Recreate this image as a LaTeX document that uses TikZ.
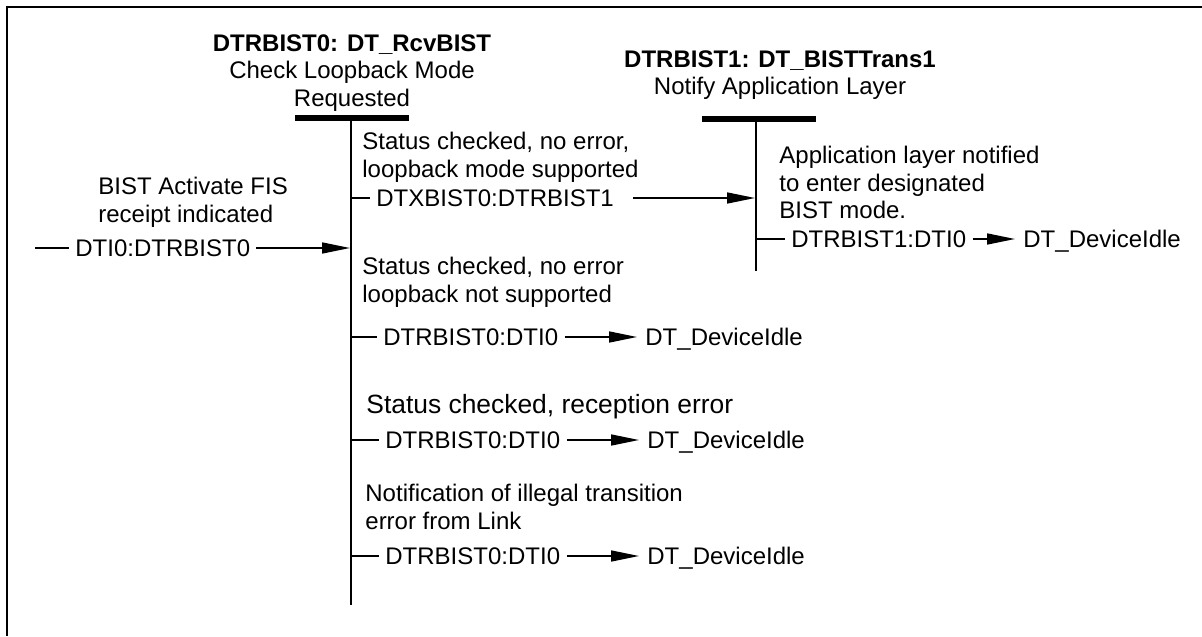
\documentclass[tikz,border=0pt]{standalone}
\usepackage{fontspec}
\setmainfont{Liberation Sans}
\usetikzlibrary{arrows.meta, positioning}
\tikzset{
  frameline/.style={line width=1pt},
  statebar/.style={line width=2.8pt},
  lifeline/.style={line width=1pt},
  tick/.style={line width=0.8pt},
  arr/.style={line width=0.8pt, -{Triangle[length=14pt,width=5.5pt]}},
  desc/.style={font=\fontsize{12}{13.75}\selectfont, inner sep=0pt, align=left, anchor=north west},
  title/.style={font=\fontsize{12}{13.75}\selectfont, inner sep=0pt, align=center, anchor=north},
  lbl/.style={font=\fontsize{12}{14}\selectfont, inner xsep=3pt, inner ysep=0pt,
    text height=8.3pt, text depth=0pt, anchor=west},
  target/.style={lbl, inner xsep=4pt}
}

\begin{document}
\begin{tikzpicture}[x=0.5pt, y=-0.5pt]
  \useasboundingbox (0,0) rectangle (1202,636);
  \draw[frameline] (7,636) -- (7,7) -- (1202,7);
  %
  % state DTRBIST0
  \node[title] (s0name) at (352,34) {\textbf{DTRBIST0: DT\_RcvBIST}\\Check Loopback Mode\\Requested};
  \draw[statebar] (295,118) -- (409,118);
  \coordinate (s0top) at (351,119);
  \coordinate (s0end) at (351,605);
  \draw[lifeline] (s0top) -- (s0end);
  %
  % state DTRBIST1
  \node[title] (s1name) at (780,50) {\textbf{DTRBIST1: DT\_BISTTrans1}\\Notify Application Layer};
  \draw[statebar] (702,119) -- (816,119);
  \coordinate (s1top) at (756,120);
  \coordinate (s1end) at (756,271);
  \draw[lifeline] (s1top) -- (s1end);
  %
  % entry transition
  \node[desc] (c0) at (98,177) {BIST Activate FIS\\receipt indicated};
  \coordinate (in0) at (35,248);
  \coordinate (s0in) at (350,248);
  \node[lbl] (t0) at (69,248) {DTI0:DTRBIST0};
  \draw[tick] (in0) -- (t0.west);
  \draw[arr] (t0.east) -- (s0in);
  %
  % DTRBIST0 -> DTRBIST1
  \node[desc] (c1) at (362,132) {Status checked, no error,\\loopback mode supported};
  \coordinate (s0a) at (351,198);
  \coordinate (s1in) at (755,198);
  \node[lbl] (t1) at (370,198) {DTXBIST0:DTRBIST1};
  \draw[tick] (s0a) -- (t1.west);
  \draw[arr, shorten <=6.5pt] (t1.east) -- (s1in);
  %
  % DTRBIST1 -> idle
  \node[desc] (c5) at (779,146) {Application layer notified\\to enter designated\\BIST mode.};
  \coordinate (s1a) at (756,239);
  \node[lbl] (t5) at (785,239) {DTRBIST1:DTI0};
  \node[target] (d5) at (1015,239) {DT\_DeviceIdle};
  \draw[tick] (s1a) -- (t5.west);
  \draw[arr] (t5.east) -- (d5.west);
  %
  % DTRBIST0 -> idle, no loopback
  \node[desc] (c2) at (362,257) {Status checked, no error\\loopback not supported};
  \coordinate (s0b) at (351,337);
  \node[lbl] (t2) at (377,337) {DTRBIST0:DTI0};
  \node[target] (d2) at (637,337) {DT\_DeviceIdle};
  \draw[tick] (s0b) -- (t2.west);
  \draw[arr] (t2.east) -- (d2.west);
  %
  % DTRBIST0 -> idle, reception error
  \node[desc, font=\fontsize{13.2}{15}\selectfont] (c3) at (366,394) {Status checked, reception error};
  \coordinate (s0c) at (351,440);
  \node[lbl] (t3) at (379,440) {DTRBIST0:DTI0};
  \node[target] (d3) at (639,440) {DT\_DeviceIdle};
  \draw[tick] (s0c) -- (t3.west);
  \draw[arr] (t3.east) -- (d3.west);
  %
  % DTRBIST0 -> idle, illegal transition
  \node[desc] (c4) at (365,484) {Notification of illegal transition\\error from Link};
  \coordinate (s0d) at (351,556);
  \node[lbl] (t4) at (379,556) {DTRBIST0:DTI0};
  \node[target] (d4) at (639,556) {DT\_DeviceIdle};
  \draw[tick] (s0d) -- (t4.west);
  \draw[arr] (t4.east) -- (d4.west);
\end{tikzpicture}
\end{document}
